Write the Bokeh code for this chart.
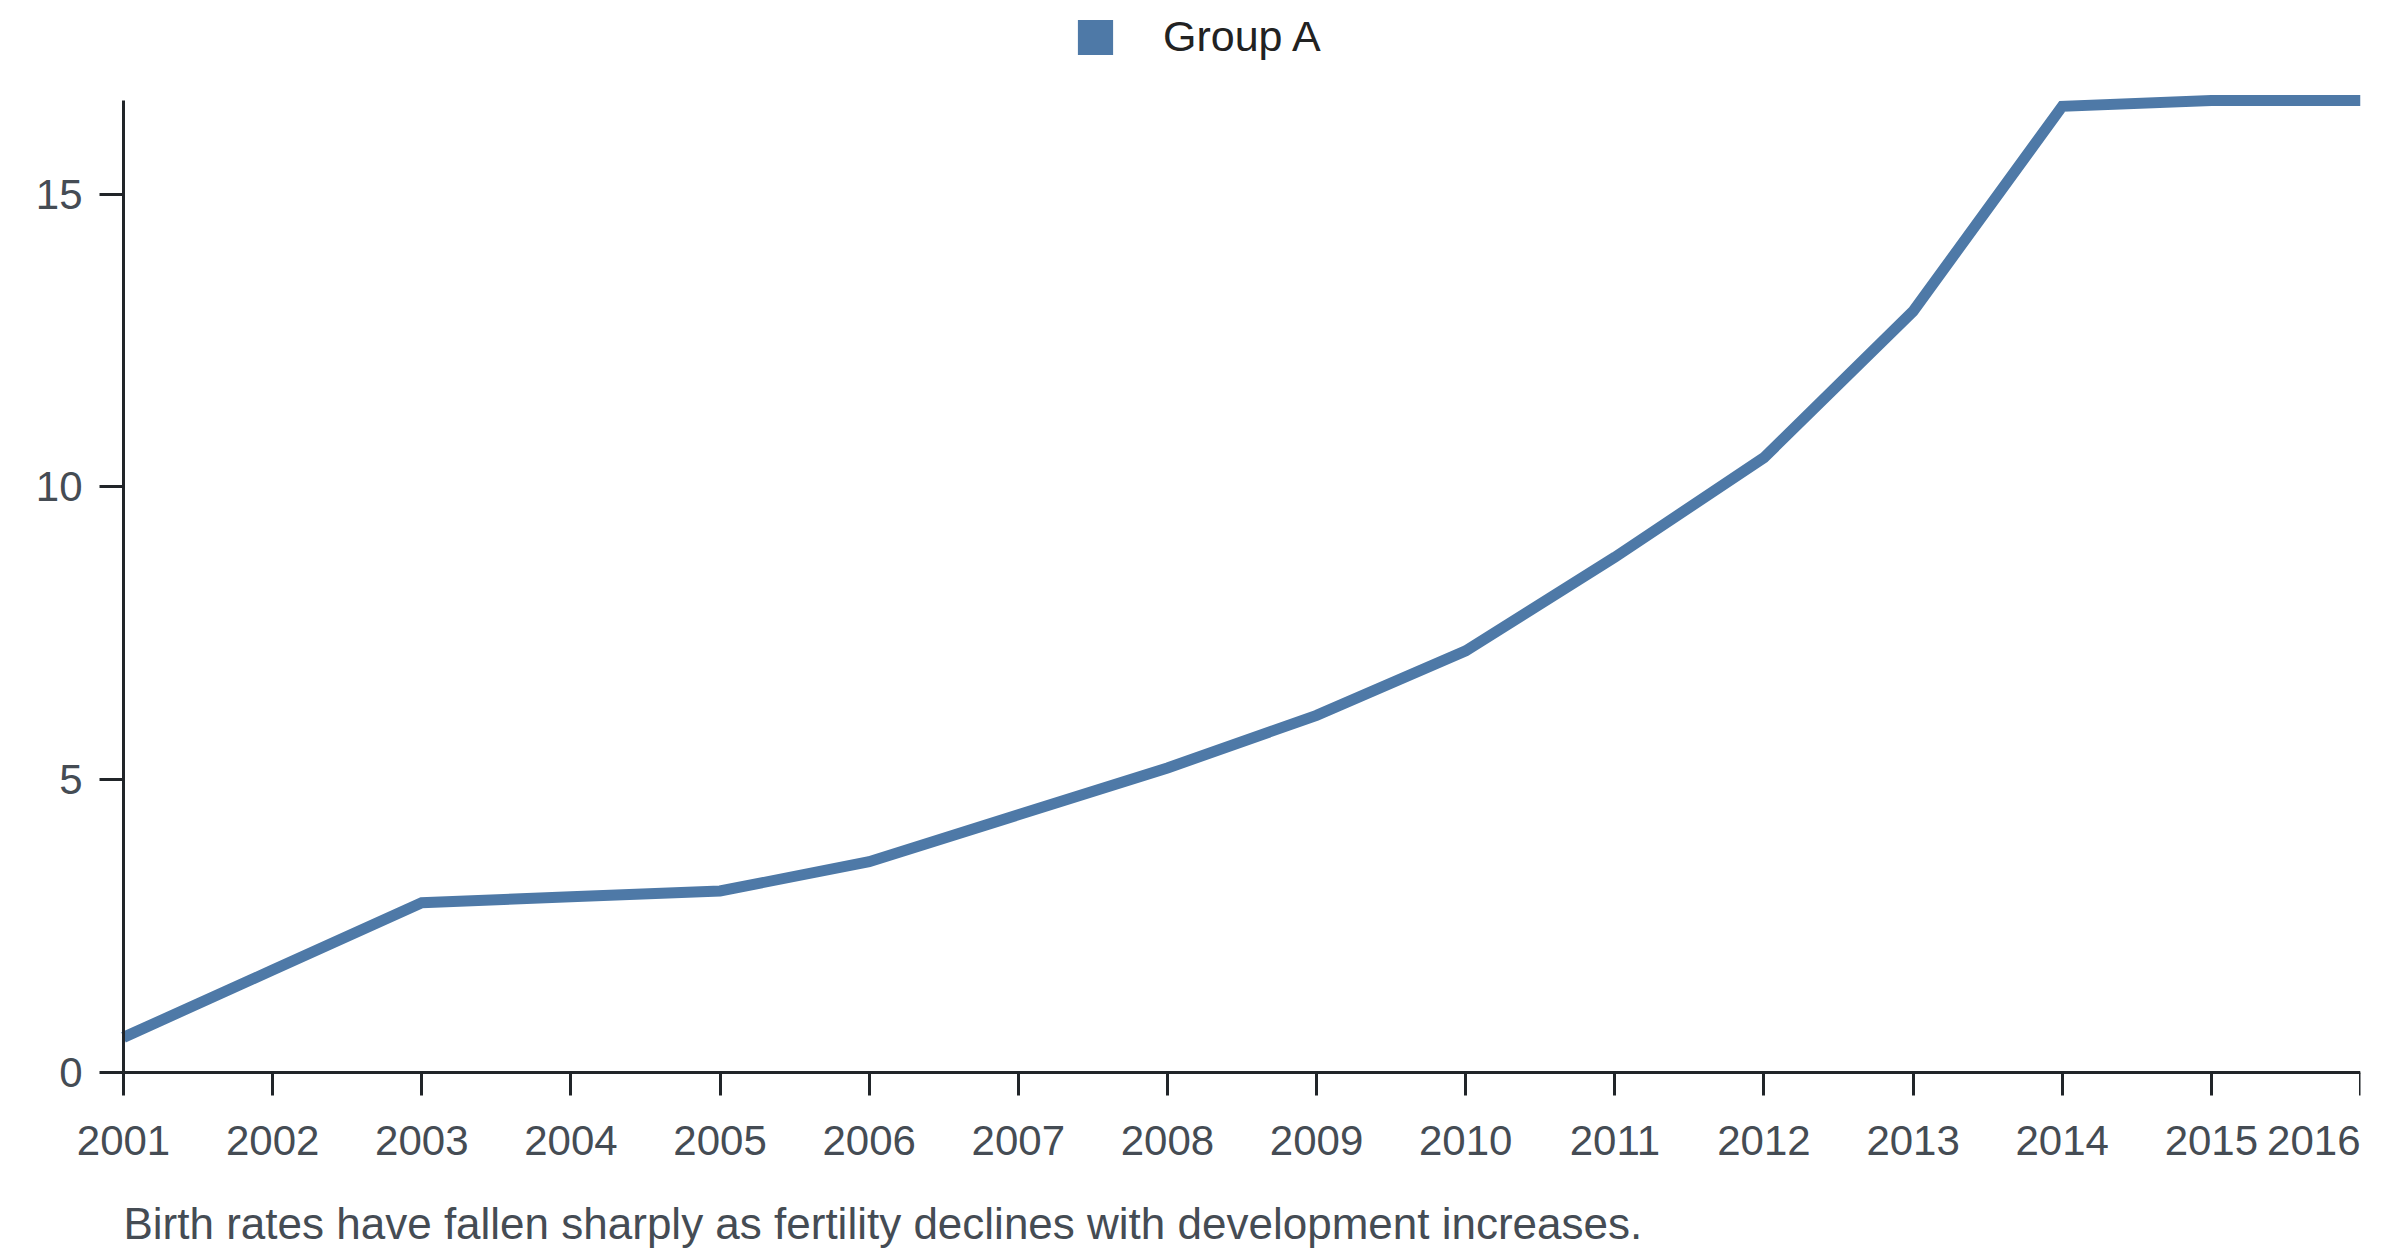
from bokeh.plotting import figure
from bokeh.models import (Range1d, FixedTicker, Legend, LegendItem, Label,
                          ColumnDataSource)
from bokeh.embed import file_html
from bokeh.resources import INLINE

# ---- data ----
years = [2001, 2002, 2003, 2004, 2005, 2006, 2007, 2008,
         2009, 2010, 2011, 2012, 2013, 2014, 2015, 2016]
values = [0.6, 1.75, 2.9, 3.0, 3.1, 3.6, 4.4, 5.2,
          6.1, 7.2, 8.8, 10.5, 13.0, 16.5, 16.6, 16.6]
y_ticks = [0, 5, 10, 15]
series_name = "Group A"
caption = "Birth rates have fallen sharply as fertility declines with development increases."

LINE_COLOR = "#4e79a7"
AXIS_COLOR = "#212529"
TICK_TEXT = "#454c54"
FONT = "Liberation Sans"
FS = "42px"

# ---- layout (pixels) ----
W, H = 2384, 1256
FRAME_TOP, FRAME_RIGHT_PAD = 10, 24
AX_LEFT, AX_RIGHT = 123, W - FRAME_RIGHT_PAD      # where first / last year sit
AX_TOP, AX_ZERO = 100, 1072                         # where max value / zero sit

px_x = (AX_RIGHT - AX_LEFT) / (years[-1] - years[0])
px_y = (AX_ZERO - AX_TOP) / max(values)
x_range = Range1d(years[0] - AX_LEFT / px_x, years[-1])
y_range = Range1d(-(H - AX_ZERO) / px_y, max(values) + (AX_TOP - FRAME_TOP) / px_y)

p = figure(width=W, height=H, output_backend="svg", toolbar_location=None,
           x_range=x_range, y_range=y_range,
           x_axis_location="above", y_axis_location="right",
           min_border_left=0, min_border_right=FRAME_RIGHT_PAD,
           min_border_top=FRAME_TOP, min_border_bottom=0)
p.outline_line_color = None
p.xgrid.visible = False
p.ygrid.visible = False
p.background_fill_color = "white"
p.border_fill_color = "white"

src = ColumnDataSource(dict(x=years, y=values))
p.line("x", "y", source=src, line_color=LINE_COLOR, line_width=11,
       line_join="miter", line_cap="butt")

# hidden renderer that only supplies the square legend swatch
swatch = p.quad(left=years[:1], right=years[:1], top=values[:1], bottom=values[:1],
                fill_color=LINE_COLOR, line_color=None)
swatch.visible = False

# axes drawn at data zero / first year, ticks pointing outward from the data
xa = p.xaxis[0]
ya = p.yaxis[0]
xa.fixed_location = 0
ya.fixed_location = years[0]
xa.bounds = (years[0], years[-1])
ya.bounds = (0, max(values))
xa.ticker = FixedTicker(ticks=years)
ya.ticker = FixedTicker(ticks=y_ticks)
for ax, tick_len in ((xa, 23), (ya, 24)):
    ax.axis_line_color = AXIS_COLOR
    ax.axis_line_width = 3
    ax.major_tick_line_color = AXIS_COLOR
    ax.major_tick_line_width = 3
    ax.major_tick_in = tick_len
    ax.major_tick_out = 0
    ax.minor_tick_line_color = None
    ax.major_label_text_font_size = "0px"
    ax.major_label_text_color = None     # labels are drawn below as annotations
    ax.major_label_standoff = 0

# tick labels
for yr in years:
    p.add_layout(Label(x=yr, y=0, text=str(yr),
                       text_align="right" if yr == years[-1] else "center",
                       text_baseline="top", y_offset=-53, text_font=FONT,
                       text_font_size=FS, text_color=TICK_TEXT))
for t in y_ticks:
    p.add_layout(Label(x=years[0], y=t, text=str(t), text_align="right",
                       text_baseline="middle", x_offset=-41, text_font=FONT,
                       text_font_size=FS, text_color=TICK_TEXT))

# caption
p.add_layout(Label(x=years[0], y=0, text=caption, text_align="left",
                   text_baseline="top", y_offset=-126, text_font=FONT,
                   text_font_size="44px", text_color=TICK_TEXT))

legend = Legend(items=[LegendItem(label=series_name, renderers=[swatch])],
                location=(1073, H - 61), orientation="horizontal",
                border_line_color=None, background_fill_alpha=0,
                inactive_fill_alpha=0,
                padding=0, margin=0, spacing=0,
                glyph_width=44, glyph_height=44, label_standoff=46,
                label_text_font=FONT, label_text_font_size="43px",
                label_text_color="#222222")
p.add_layout(legend, "center")

open("out.html", "w").write(file_html(p, INLINE))
